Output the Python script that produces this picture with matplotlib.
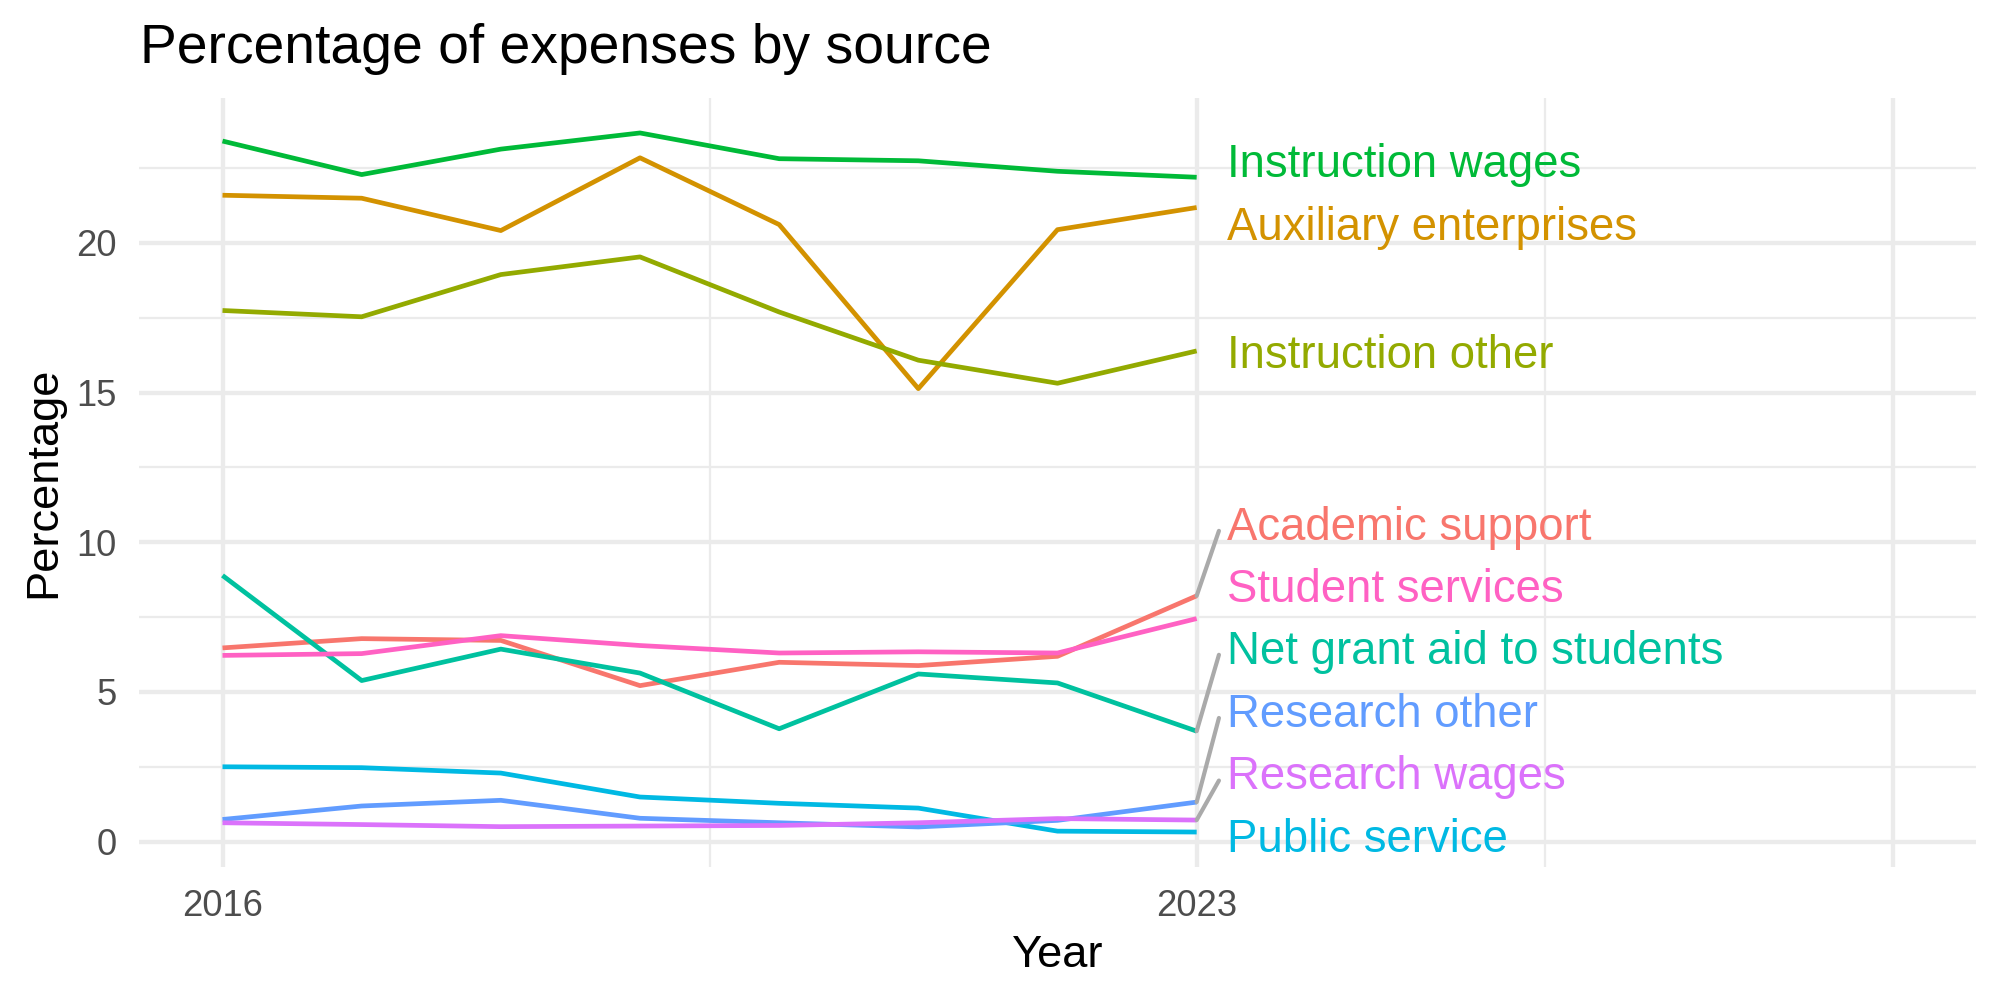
import matplotlib
matplotlib.use("Agg")
import matplotlib.pyplot as plt
import matplotlib.transforms as mtransforms

plt.rcParams["font.family"] = ["Liberation Sans", "DejaVu Sans"]

# ---------------- data ----------------
years = [2016, 2017, 2018, 2019, 2020, 2021, 2022, 2023]
categories = [
    "Academic support", "Auxiliary enterprises", "Instruction other",
    "Instruction wages", "Net grant aid to students", "Public service",
    "Research other", "Research wages", "Student services",
]
academic_support      = [6.47, 6.78, 6.72, 5.21, 5.99, 5.88, 6.19, 8.21]
auxiliary_enterprises = [21.59, 21.49, 20.41, 22.84, 20.61, 15.13, 20.44, 21.18]
instruction_other     = [17.74, 17.53, 18.94, 19.53, 17.69, 16.08, 15.31, 16.39]
instruction_wages     = [23.40, 22.28, 23.13, 23.67, 22.81, 22.74, 22.39, 22.19]
net_grant_aid         = [8.89, 5.38, 6.43, 5.63, 3.77, 5.60, 5.30, 3.69]
public_service        = [2.50, 2.47, 2.29, 1.49, 1.28, 1.12, 0.35, 0.32]
research_other        = [0.74, 1.19, 1.38, 0.78, 0.63, 0.49, 0.71, 1.32]
research_wages        = [0.63, 0.57, 0.50, 0.52, 0.54, 0.63, 0.77, 0.72]
student_services      = [6.22, 6.28, 6.88, 6.55, 6.30, 6.34, 6.30, 7.45]

series = [academic_support, auxiliary_enterprises, instruction_other,
          instruction_wages, net_grant_aid, public_service,
          research_other, research_wages, student_services]

colors = ["#F8766D", "#D39200", "#93AA00", "#00BA38", "#00C19F",
          "#00B9E3", "#619CFF", "#DB72FB", "#FF61C3"]

# repelled label positions (y, in data units) and whether a leader segment is drawn
label_y = [10.63, 20.65, 16.38, 22.74, 6.49, 0.20, 4.38, 2.29, 8.56]
has_segment = [True, False, False, False, True, False, True, True, False]

x_breaks = [2016, 2023, 2028]
x_break_labels = ["2016", "2023", ""]
x_minor = [2019.5, 2025.5]
y_breaks = [0, 5, 10, 15, 20]
y_minor = [2.5, 7.5, 12.5, 17.5, 22.5]
x_limit_max = 2028

# ---------------- figure ----------------
fig = plt.figure(figsize=(10, 5), dpi=200)
ax = fig.add_axes([139 / 2000, 1 - 867 / 1000, (1976 - 139) / 2000, (867 - 98) / 1000])

xmin, xmax = years[0], x_limit_max
xr = xmax - xmin
ax.set_xlim(xmin - 0.05 * xr, xmax + 0.05 * xr)
all_vals = [v for s in series for v in s]
ymin, ymax = min(all_vals), max(all_vals)
yr = ymax - ymin
ax.set_ylim(ymin - 0.05 * yr, ymax + 0.05 * yr)

grid_col = "#EBEBEB"
major_lw, minor_lw = 1.55, 0.8
for xv in x_breaks:
    ax.axvline(xv, color=grid_col, lw=major_lw, zorder=0)
for xv in x_minor:
    ax.axvline(xv, color=grid_col, lw=minor_lw, zorder=0)
for yv in y_breaks:
    ax.axhline(yv, color=grid_col, lw=major_lw, zorder=0)
for yv in y_minor:
    ax.axhline(yv, color=grid_col, lw=minor_lw, zorder=0)

for i, (vals, col) in enumerate(zip(series, colors)):
    ax.plot(years, vals, color=col, lw=1.7, zorder=2 + i * 0.01,
            solid_capstyle="butt", solid_joinstyle="round")

label_fs = 16.4
label_x = years[-1] + 0.22
text_tr = mtransforms.offset_copy(ax.transData, fig=fig, y=-0.716 * label_fs / 2, units="points")
for name, vals, col, ly, seg in zip(categories, series, colors, label_y, has_segment):
    if seg:
        ax.plot([years[-1], label_x - 0.06], [vals[-1], ly - 0.25],
                color="#AAAAAA", lw=1.5, zorder=3, solid_capstyle="round")
    ax.text(label_x, ly, name, color=col, fontsize=label_fs, ha="left",
            va="baseline", transform=text_tr, zorder=4, clip_on=False)

for s in ax.spines.values():
    s.set_visible(False)
ax.set_xticks(x_breaks)
ax.set_xticklabels(x_break_labels)
ax.set_yticks(y_breaks)
ax.set_yticklabels([str(v) for v in y_breaks])
ax.tick_params(axis="both", length=0, labelsize=13.1, labelcolor="#4D4D4D")
ax.tick_params(axis="x", pad=7.8)
ax.tick_params(axis="y", pad=8.1)

fig.text(140 / 2000, 1 - 62.7 / 1000, "Percentage of expenses by source",
         fontsize=19.9, ha="left", va="baseline", color="black")
fig.text(1057.5 / 2000, 1 - 967.3 / 1000, "Year", fontsize=16.3,
         ha="center", va="baseline", color="black")
fig.text(55 / 2000, 1 - 482.5 / 1000, "Percentage", fontsize=16.3,
         rotation=90, rotation_mode="anchor", ha="center", va="baseline", color="black")

fig.savefig("out.png", dpi=200, facecolor="white")
